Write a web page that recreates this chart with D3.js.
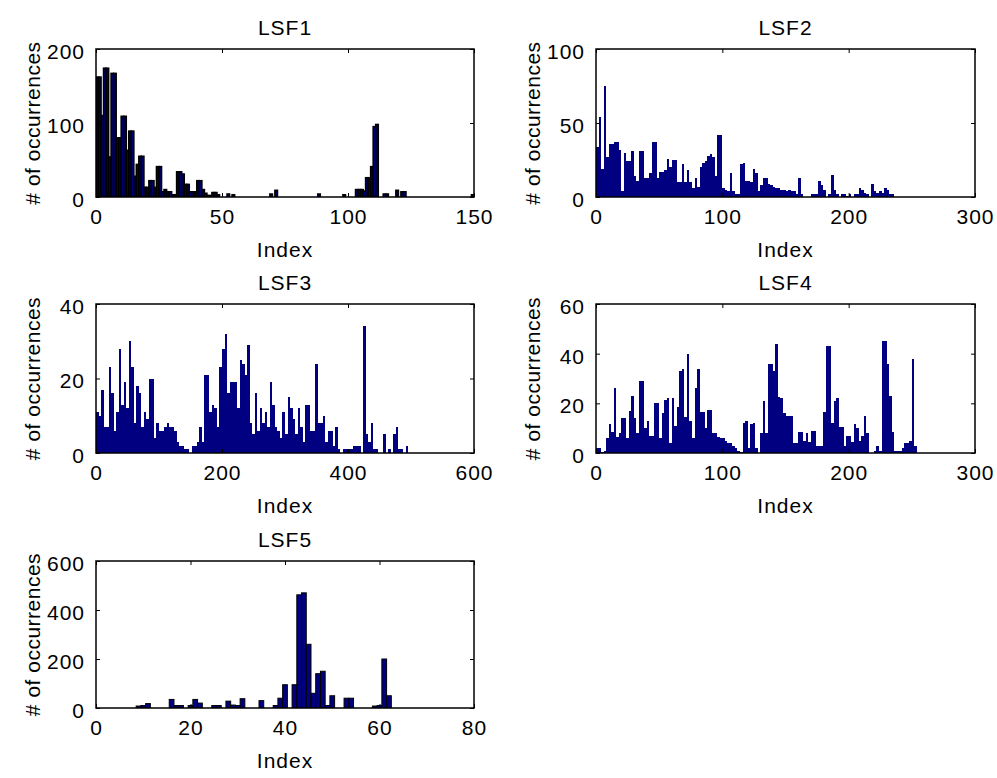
<!DOCTYPE html>
<html>
<head>
<meta charset="utf-8">
<script src="https://cdn.jsdelivr.net/npm/d3@7"></script>
<style>
  html, body { margin: 0; padding: 0; background: #fff; }
  svg { display: block; }
  text { font-family: "Liberation Sans", Arial, sans-serif; fill: #000; }
</style>
</head>
<body>
<svg id="chart" width="997" height="778"></svg>
<script>
// ---------- DATA ----------
// LSF1: counts per index (bin width 1, starting at 0)
const lsf1Counts = [
  162,162,110,174,174,54,167,167,80,80,
  109,109,63,89,89,28,44,55,55,13,
  13,22,22,13,41,41,7,10,7,7,
  3,3,34,34,31,17,17,7,7,7,
  22,22,10,5,2,2,6,6,3,0,
  0,0,4,0,3,0,0,0,0,0,
  0,0,0,0,0,0,0,0,0,4,
  0,9,0,0,0,0,0,0,0,0,
  0,0,0,0,0,0,0,0,4,0,
  0,0,0,0,0,0,0,0,3,0,
  0,0,0,10,10,10,8,26,26,41,
  95,98,0,0,4,4,0,0,0,9,
  0,7,7,0,0,0,0,0,0,0,
  0,0,0,0,0,0,0,0,0,0,
  0,0,0,0,0,0,0,0,0,3
];
// LSF2: counts in bins of 2 indices, starting at 0
const lsf2Counts = [
  34,54,19,75,27,36,36,37,37,32,
  4,30,24,24,31,14,11,31,31,13,
  13,16,37,37,13,17,17,18,26,20,
  25,25,10,10,22,10,18,10,6,13,
  7,20,23,24,28,29,27,14,42,42,
  6,5,4,16,4,2,2,22,23,11,
  11,10,19,16,4,8,13,13,9,8,
  7,6,6,5,5,4,5,4,4,2,
  13,2,0,0,0,2,2,2,11,8,
  5,0,2,15,5,2,0,2,2,1,
  2,0,2,2,6,5,3,2,0,9,
  4,3,4,3,6,5,2,2
];
// LSF3: counts in bins of 4 indices, starting at 0
const lsf3Counts = [
  11,10,17,7,7,23,16,6,11,28,
  13,19,12,30,23,8,18,16,7,11,
  9,20,20,4,8,6,6,7,8,7,
  7,6,3,2,2,1,1,0,2,2,
  3,7,3,21,21,11,13,12,7,23,
  28,32,16,19,19,19,12,25,24,21,
  29,8,5,16,6,12,8,11,7,19,
  13,7,6,4,11,5,15,12,9,5,
  12,7,3,13,13,6,6,24,8,8,
  10,3,6,6,2,7,1,0,1,1,
  1,1,2,2,2,0,34,5,3,8,
  1,1,0,0,5,0,1,0,5,7,
  1,1,0,2
];
// LSF4: counts in bins of 2 indices, starting at 0
const lsf4Counts = [
  2,2,0.5,1,6,11.5,8.5,26,6.5,8,
  14,14,6,17,23,14,8,29,29,10,
  13,7,7,20,20,6,16,21.5,22,4,
  22,11,18.5,33,34,14.5,40,13,6,26,
  34,16.5,16.5,10,17.5,17.5,8,8,6.5,6,
  6,5,4,4,3,2,1,0.5,12,13,
  2,11.5,12,2,0,8,21,8,36,36,
  33,44,22.5,22,16,15,15,15,4,4,
  8.5,8.5,5,8,4.5,9,9,3,3,3,
  16.5,43,43,12,21,22,10.5,10.5,3,7,
  7,4.5,11.5,10,5,7,15,8,0,0,
  1,3,1,45,45,36,23,8.5,1,1,
  1,2,4,4,5,38,3
];
// LSF5: counts per index, bins centred on integers 0..80
const lsf5Counts = [
  0,0,0,0,0,0,0,0,0,8,
  10,18,0,0,0,0,35,10,10,0,
  10,35,20,0,0,10,10,0,28,12,
  10,38,0,0,0,30,0,0,10,40,
  95,0,95,462,470,260,60,140,150,10,
  50,0,0,40,40,0,0,0,0,8,
  10,200,50,0,0,0,0,0,0,0,
  0,0,0,0,0,0,0,0,0,0
];

const titles = ["LSF1", "LSF2", "LSF3", "LSF4", "LSF5"];
const xTicks1 = [0, 50, 100, 150];
const xTicks2 = [0, 100, 200, 300];
const xTicks3 = [0, 200, 400, 600];
const xTicks4 = [0, 100, 200, 300];
const xTicks5 = [0, 20, 40, 60, 80];
const yTicks1 = [0, 100, 200];
const yTicks2 = [0, 50, 100];
const yTicks3 = [0, 20, 40];
const yTicks4 = [0, 20, 40, 60];
const yTicks5 = [0, 200, 400, 600];
const xLabel = "Index";
const yLabel = "# of occurrences";

// ---------- LAYOUT / STYLE ----------
const panels = [
  { title: titles[0], values: lsf1Counts, binWidth: 1, offset: 0,    xTicks: xTicks1, yTicks: yTicks1,
    left: 96,  top: 49,  width: 378, height: 148, stroke: "#000", strokeWidth: 1.6 },
  { title: titles[1], values: lsf2Counts, binWidth: 2, offset: 0,    xTicks: xTicks2, yTicks: yTicks2,
    left: 596, top: 49,  width: 379, height: 148, stroke: null },
  { title: titles[2], values: lsf3Counts, binWidth: 4, offset: 0,    xTicks: xTicks3, yTicks: yTicks3,
    left: 96,  top: 304, width: 378, height: 149, stroke: null },
  { title: titles[3], values: lsf4Counts, binWidth: 2, offset: 0,    xTicks: xTicks4, yTicks: yTicks4,
    left: 596, top: 304, width: 379, height: 149, stroke: null },
  { title: titles[4], values: lsf5Counts, binWidth: 1, offset: -0.5, xTicks: xTicks5, yTicks: yTicks5,
    left: 96,  top: 561, width: 378, height: 147, stroke: "#000", strokeWidth: 1 }
];

const barColor = "#000080";
const fontSize = 21;

const svg = d3.select("#chart");

panels.forEach((p, pi) => {
  const xDom = d3.extent(p.xTicks);
  const yDom = d3.extent(p.yTicks);
  const x = d3.scaleLinear().domain(xDom).range([0, p.width]);
  const y = d3.scaleLinear().domain(yDom).range([p.height, 0]);

  const g = svg.append("g").attr("transform", `translate(${p.left},${p.top})`);

  const clipId = "clip" + pi;
  g.append("clipPath").attr("id", clipId)
    .append("rect").attr("x", 0).attr("y", 0).attr("width", p.width).attr("height", p.height);

  const bars = p.values.map((v, i) => ({ x0: p.offset + i * p.binWidth, x1: p.offset + (i + 1) * p.binWidth, v }))
    .filter(d => d.v > 0);

  g.append("g").attr("clip-path", `url(#${clipId})`)
    .selectAll("rect").data(bars).join("rect")
    .attr("x", d => x(d.x0))
    .attr("width", d => x(d.x1) - x(d.x0))
    .attr("y", d => y(d.v))
    .attr("height", d => y(0) - y(d.v))
    .attr("fill", barColor)
    .attr("stroke", p.stroke || "none")
    .attr("stroke-width", p.stroke ? p.strokeWidth : 0)
    .attr("shape-rendering", p.stroke ? "auto" : "crispEdges");

  // axes (inward ticks)
  const bottom = g.append("g").attr("transform", `translate(0,${p.height})`)
    .call(d3.axisBottom(x).tickValues(p.xTicks).tickSizeInner(-4).tickSizeOuter(0).tickPadding(12).tickFormat(d3.format("d")));
  const left = g.append("g")
    .call(d3.axisLeft(y).tickValues(p.yTicks).tickSizeInner(-4).tickSizeOuter(0).tickPadding(11).tickFormat(d3.format("d")));
  const top = g.append("g")
    .call(d3.axisTop(x).tickValues(p.xTicks).tickSizeInner(-4).tickSizeOuter(0).tickFormat(""));
  const right = g.append("g").attr("transform", `translate(${p.width},0)`)
    .call(d3.axisRight(y).tickValues(p.yTicks).tickSizeInner(-4).tickSizeOuter(0).tickFormat(""));

  [bottom, left, top, right].forEach(a => {
    a.select(".domain").remove();
    a.selectAll("line").attr("stroke", "#000").attr("stroke-width", 1);
    a.selectAll("text")
      .attr("font-family", "'Liberation Sans', Arial, sans-serif")
      .attr("font-size", fontSize)
      .attr("letter-spacing", "1px")
      .attr("fill", "#000");
  });
  left.selectAll("text").attr("dy", "0.45em");

  // frame
  g.append("rect")
    .attr("x", 0).attr("y", 0).attr("width", p.width).attr("height", p.height)
    .attr("fill", "none").attr("stroke", "#000").attr("stroke-width", 1.5);

  // title
  g.append("text")
    .attr("x", p.width / 2).attr("y", -14.5)
    .attr("text-anchor", "middle")
    .attr("font-size", fontSize).attr("letter-spacing", "1px")
    .text(p.title);

  // x label
  g.append("text")
    .attr("x", p.width / 2).attr("y", p.height + 60)
    .attr("text-anchor", "middle")
    .attr("font-size", fontSize).attr("letter-spacing", "1px")
    .text(xLabel);

  // y label
  g.append("text")
    .attr("transform", `translate(-56,${p.height / 2}) rotate(-90)`)
    .attr("text-anchor", "middle")
    .attr("font-size", fontSize).attr("letter-spacing", "0.5px")
    .text(yLabel);
});
</script>
</body>
</html>
